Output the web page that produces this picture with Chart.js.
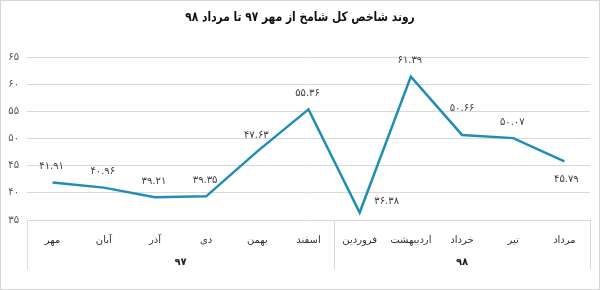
<!DOCTYPE html>
<html><head><meta charset="utf-8">
<script src="https://cdn.jsdelivr.net/npm/chart.js@4.4.1/dist/chart.umd.min.js"></script>
<style>
html,body{margin:0;padding:0;background:#fff;}
#wrap{position:relative;width:600px;height:290px;box-sizing:border-box;border:1px solid #d6d6d6;}
canvas{display:block;}
</style></head>
<body><div id="wrap"><canvas id="c" width="598" height="288"></canvas></div>
<script>
const title = "روند شاخص کل شامخ از مهر ۹۷ تا مرداد ۹۸";
const categories = ["مهر","آبان","آذر","دی","بهمن","اسفند","فروردین","اردیبهشت","خرداد","تیر","مرداد"];
const values = [41.91, 40.96, 39.21, 39.35, 47.63, 55.36, 36.38, 61.39, 50.66, 50.07, 45.79];
const yearGroups = ["۹۷","۹۸"];
const yearGroupSizes = [6, 5];
const yTicks = [35, 40, 45, 50, 55, 60, 65];

const FONT = "'DejaVu Sans', 'Noto Sans', sans-serif";
const faDigits = "۰۱۲۳۴۵۶۷۸۹";
function toFa(s){ return String(s).replace(/[0-9]/g, d => faDigits[+d]); }

// label placement: 'a' above, 'A' high above, 'r' right-below, 'b' below
const labelPlace = ['a','a','a','a','a','a','r','a','A','a','b'];

const deco = {
  id: 'deco',
  afterDraw(chart){
    const ctx = chart.ctx, x = chart.scales.x, ca = chart.chartArea;
    ctx.save();
    ctx.fillStyle = '#111';
    ctx.textAlign = 'center'; ctx.textBaseline = 'middle';
    ctx.save();
    ctx.translate(299, 17);
    ctx.scale(0.82, 1);
    ctx.font = "bold 13px " + FONT;
    ctx.direction = 'rtl';
    ctx.fillText(title, 0, 0);
    ctx.restore();
    ctx.strokeStyle = '#d9d9d9'; ctx.lineWidth = 1;
    const bottom = ca.bottom + 49;
    let idx = 0;
    const bounds = [ca.left];
    yearGroupSizes.forEach(n => { idx += n; bounds.push(idx < categories.length ? (x.getPixelForValue(idx-1)+x.getPixelForValue(idx))/2 : ca.right); });
    bounds.forEach(bx => { ctx.beginPath(); ctx.moveTo(Math.round(bx)+0.5, ca.bottom); ctx.lineTo(Math.round(bx)+0.5, bottom); ctx.stroke(); });
    ctx.fillStyle = '#222';
    ctx.font = "bold 10px " + FONT;
    for (let g = 0; g < yearGroups.length; g++) {
      ctx.fillText(yearGroups[g], (bounds[g]+bounds[g+1])/2, ca.bottom + 42);
    }
    ctx.font = "10px " + FONT;
    ctx.fillStyle = '#404040';
    const meta = chart.getDatasetMeta(0);
    meta.data.forEach((pt, i) => {
      const txt = toFa(values[i].toFixed(2));
      let px = pt.x, py = pt.y;
      const p = labelPlace[i];
      if (p === 'a') { px -= 1; py -= 16; }
      else if (p === 'A') { py -= 27; }
      else if (p === 'r') { px += 27; py -= 11; }
      else { px += 2; py += 18; }
      ctx.fillText(txt, px, py);
    });
    ctx.restore();
  }
};

new Chart(document.getElementById('c'), {
  type: 'line',
  data: { labels: categories, datasets: [{
    data: values, borderColor: '#1f8db6', borderWidth: 2.5, pointRadius: 0,
    tension: 0, fill: false
  }]},
  options: {
    responsive: false, animation: false,
    layout: { padding: { top: 56, right: 9, bottom: 19, left: 0 } },
    plugins: { legend: { display: false }, tooltip: { enabled: false }, title: { display: false } },
    scales: {
      x: {
        offset: true,
        grid: { display: false, drawTicks: false },
        border: { display: false },
        ticks: { padding: 14, color: '#333', font: { family: FONT, size: 10 }, maxRotation: 0, autoSkip: false },
        afterFit(s){ s.height = 50; }
      },
      y: {
        min: 35, max: 65,
        afterBuildTicks(s){ s.ticks = yTicks.map(v => ({ value: v })); },
        grid: { color: '#d9d9d9', drawTicks: false },
        border: { display: false },
        ticks: { padding: 8, color: '#555', font: { family: FONT, size: 10 }, callback: v => toFa(v) },
        afterFit(s){ s.width = 26; }
      }
    }
  },
  plugins: [deco]
});
</script></body></html>
